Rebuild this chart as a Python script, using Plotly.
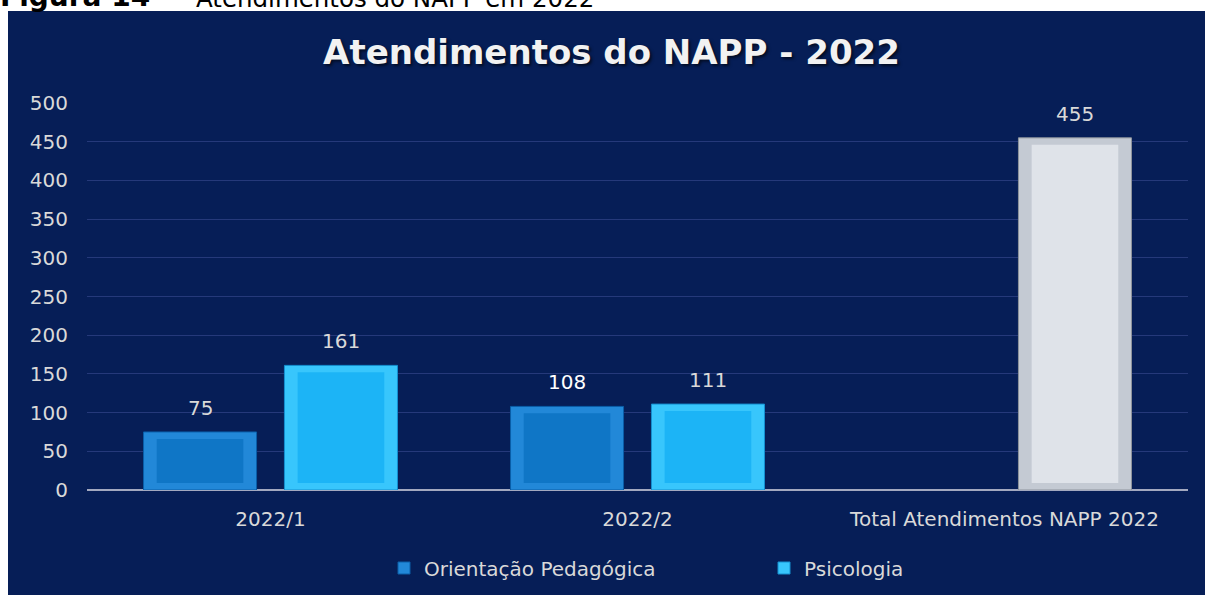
import plotly.graph_objects as go

# ---- data ----
categories = ["2022/1", "2022/2", "Total Atendimentos NAPP 2022"]
orientacao = [75, 108, None]
psicologia = [161, 111, 455]
series_names = ["Orientação Pedagógica", "Psicologia"]
y_tick_values = [0, 50, 100, 150, 200, 250, 300, 350, 400, 450, 500]
title_text = "Atendimentos do NAPP - 2022"
caption_bold = "Figura 14"
caption_text = "Atendimentos do NAPP em 2022"

# ---- style ----
FONT = "DejaVu Sans, Verdana, sans-serif"
BG = "#061e57"
GRID = "#25397a"
TXT = "#d9d9d9"

W, H = 1205, 595
ML, MR, MT, MB = 87, 17, 103, 105
PW, PH = W - ML - MR, H - MT - MB


def px_x(p):
    return (p - ML) / PW


def px_y(p):
    return (H - MB - p) / PH


idx = list(range(len(categories)))
off = 0.192          # offset of each bar from category centre
bw = 0.308           # bar width (category units)
bev_x = 0.036        # bevel width (category units)
bev_y = 9            # bevel height (value units)

x_or = [i - off for i in idx]
x_ps = [i + off for i in idx]

edge_or, face_or = "#2288d8", "#0f76c6"
edge_ps, face_ps = "#38c6fc", "#1cb4f6"
edge_tot, face_tot = "#c4cad3", "#dfe3e9"

ps_edges = [edge_ps, edge_ps, edge_tot]
ps_faces = [face_ps, face_ps, face_tot]


def inner(vals):
    return [None if v is None else v - 2 * bev_y for v in vals]


fig = go.Figure()
fig.add_trace(go.Bar(
    x=x_or, y=orientacao, width=bw, name=series_names[0],
    marker=dict(color=edge_or, line=dict(color="#0a5ea8", width=1)),
    hoverinfo="skip",
))
fig.add_trace(go.Bar(
    x=x_ps, y=psicologia, width=bw, name=series_names[1],
    marker=dict(color=ps_edges, line=dict(color=["#1590d0", "#1590d0", "#8e949c"], width=1)),
    hoverinfo="skip",
))
# inner faces (bevel look)
fig.add_trace(go.Bar(
    x=x_or, y=inner(orientacao), base=bev_y, width=bw - 2 * bev_x,
    marker=dict(color=face_or, line=dict(width=0)), showlegend=False, hoverinfo="skip",
))
fig.add_trace(go.Bar(
    x=x_ps, y=inner(psicologia), base=bev_y, width=bw - 2 * bev_x,
    marker=dict(color=ps_faces, line=dict(width=0)), showlegend=False, hoverinfo="skip",
))

annotations = []
for xs, ys in ((x_or, orientacao), (x_ps, psicologia)):
    for xv, yv in zip(xs, ys):
        if yv is None:
            continue
        annotations.append(dict(
            x=xv, y=yv, xref="x", yref="y", text=str(yv), showarrow=False,
            yanchor="middle", yshift=24,
            font=dict(family=FONT, size=20, color="#ffffff" if yv == 108 else TXT),
        ))

# caption (partly cut by the top edge)
annotations.append(dict(
    x=px_x(-2), y=px_y(15), xref="paper", yref="paper",
    xanchor="left", yanchor="bottom", showarrow=False, text="<b>" + caption_bold + "</b>",
    font=dict(family=FONT, size=28, color="#000000"),
))
annotations.append(dict(
    x=px_x(194), y=px_y(15), xref="paper", yref="paper",
    xanchor="left", yanchor="bottom", showarrow=False, text=caption_text,
    font=dict(family=FONT, size=24.5, color="#000000"),
))

fig.update_layout(
    width=W, height=H,
    margin=dict(l=ML, r=MR, t=MT, b=MB, autoexpand=False),
    paper_bgcolor="#ffffff",
    plot_bgcolor="rgba(0,0,0,0)",
    barmode="overlay",
    font=dict(family=FONT, size=20, color=TXT),
    title=dict(
        text="<b>" + title_text + "</b>",
        xref="paper", x=px_x(611.5), xanchor="center",
        yref="container", y=1 - 52 / H, yanchor="middle",
        font=dict(family=FONT, size=34, color="#f2f2f2",
                  shadow="2px 2px 3px rgba(0,0,0,0.6)"),
    ),
    xaxis=dict(
        range=[-0.5, 2.5], tickmode="array", tickvals=idx, ticktext=categories,
        showgrid=False, zeroline=False, showline=False, ticks="",
        ticklabelstandoff=15,
        tickfont=dict(family=FONT, size=20, color=TXT),
        fixedrange=True,
    ),
    yaxis=dict(
        range=[0, 500], tickmode="array", tickvals=y_tick_values,
        showgrid=True, gridcolor=GRID, gridwidth=1,
        zeroline=True, zerolinecolor="#a3a9c0", zerolinewidth=2,
        showline=False, ticks="", ticklabelstandoff=18,
        tickfont=dict(family=FONT, size=20, color=TXT),
        fixedrange=True,
    ),
    legend=dict(
        orientation="h", x=px_x(384), xanchor="left",
        y=px_y(568), yanchor="middle",
        entrywidth=335, entrywidthmode="pixels",
        font=dict(family=FONT, size=20, color=TXT),
        bgcolor="rgba(0,0,0,0)", itemclick=False, itemdoubleclick=False,
    ),
    shapes=[dict(
        type="rect", xref="paper", yref="paper", layer="below",
        x0=px_x(8), x1=px_x(W + 2),
        y0=px_y(H + 5), y1=px_y(11),
        fillcolor=BG, line=dict(width=0),
    )],
    annotations=annotations,
    showlegend=True,
)

fig.write_html(
    "out.html",
    config={"displayModeBar": False},
    post_script="document.body.style.margin='0';document.body.style.overflow='hidden';",
)
